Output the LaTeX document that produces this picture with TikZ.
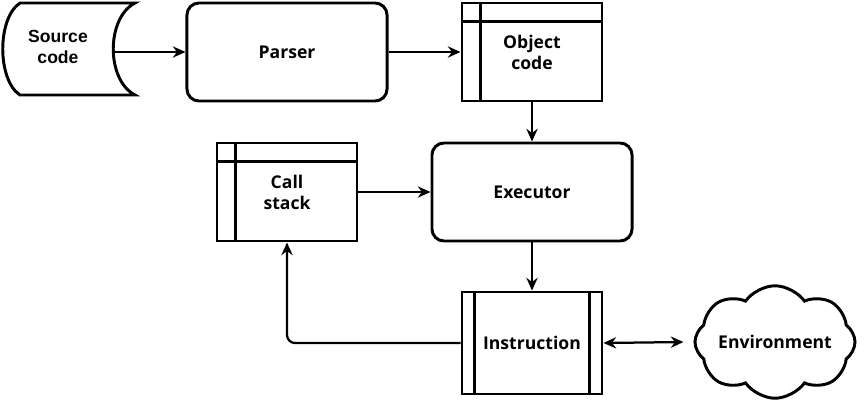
\documentclass[tikz,border=0pt]{standalone}
\usepackage{fontspec}
\setmainfont{Open Sans}
\newfontfamily\srcfont{Liberation Sans}
\usetikzlibrary{arrows.meta,shapes.symbols}

\tikzset{
  box/.style={draw, line width=2.1pt, rounded corners=0.3cm, minimum width=5cm,
    minimum height=2.45cm, align=center, font=\fontsize{12.5}{15}\selectfont\bfseries},
  store/.style={draw, line width=2.1pt, minimum width=3.5cm, minimum height=2.45cm,
    align=center, font=\fontsize{12.5}{15}\selectfont\bfseries},
  wire/.style={line width=1.6pt, -{Stealth[length=9pt,width=8pt]}},
}

\begin{document}
\begin{tikzpicture}[x=0.025cm, y=-0.025cm]
  \useasboundingbox (0,0) rectangle (864,404);

  % Source code (stored data shape)
  \draw[line width=2.1pt] (20,3) -- (135,3) .. controls (106,18) and (106,80) .. (135,95)
    -- (20,95) .. controls (-3,80) and (-3,18) .. (20,3) -- cycle;
  \node[align=center, font=\srcfont\fontsize{12.5}{15}\selectfont\bfseries, minimum width=2.75cm]
    (src) at (58,47) {Source\\code};

  % Parser and object code
  \node[box] (parser) at (287,52) {Parser};
  \node[store] (obj) at (532,52) {Object\\code};
  \draw[line width=2.1pt] ([xshift=0.5cm]obj.north west) -- ([xshift=0.5cm]obj.south west);
  \draw[line width=2.1pt] ([yshift=-0.5cm]obj.north west) -- ([yshift=-0.5cm]obj.north east);

  % Executor and call stack
  \node[box] (exec) at (532,192) {Executor};
  \node[store] (stack) at (287,192) {Call\\stack};
  \draw[line width=2.1pt] ([xshift=0.5cm]stack.north west) -- ([xshift=0.5cm]stack.south west);
  \draw[line width=2.1pt] ([yshift=-0.5cm]stack.north west) -- ([yshift=-0.5cm]stack.north east);

  % Instruction (process shape)
  \node[store, minimum height=2.55cm] (instr) at (532,343) {Instruction};
  \draw[line width=2.1pt] ([xshift=0.35cm]instr.north west) -- ([xshift=0.35cm]instr.south west);
  \draw[line width=2.1pt] ([xshift=-0.35cm]instr.north east) -- ([xshift=-0.35cm]instr.south east);

  % Environment
  \node[cloud, draw, line width=2.1pt, cloud puffs=8, cloud puff arc=110, aspect=1.6,
    inner sep=-4pt, minimum width=4.0cm, minimum height=2.6cm,
    font=\fontsize{12.5}{15}\selectfont\bfseries] (env) at (775,342) {Environment};

  % Wires
  \draw[wire] (src.east |- parser.west) -- (parser.west);
  \draw[wire] (parser.east) -- (obj.west);
  \draw[wire] (obj.south) -- (exec.north);
  \draw[wire] (stack.east) -- (exec.west);
  \draw[wire] (exec.south) -- (instr.north);
  \draw[wire, rounded corners=0.2cm] (instr.west) -| (stack.south);
  \draw[wire, {Stealth[length=9pt,width=8pt]}-{Stealth[length=9pt,width=8pt]}]
    (instr.east) -- ([xshift=-0.25cm]env.west);
\end{tikzpicture}
\end{document}
